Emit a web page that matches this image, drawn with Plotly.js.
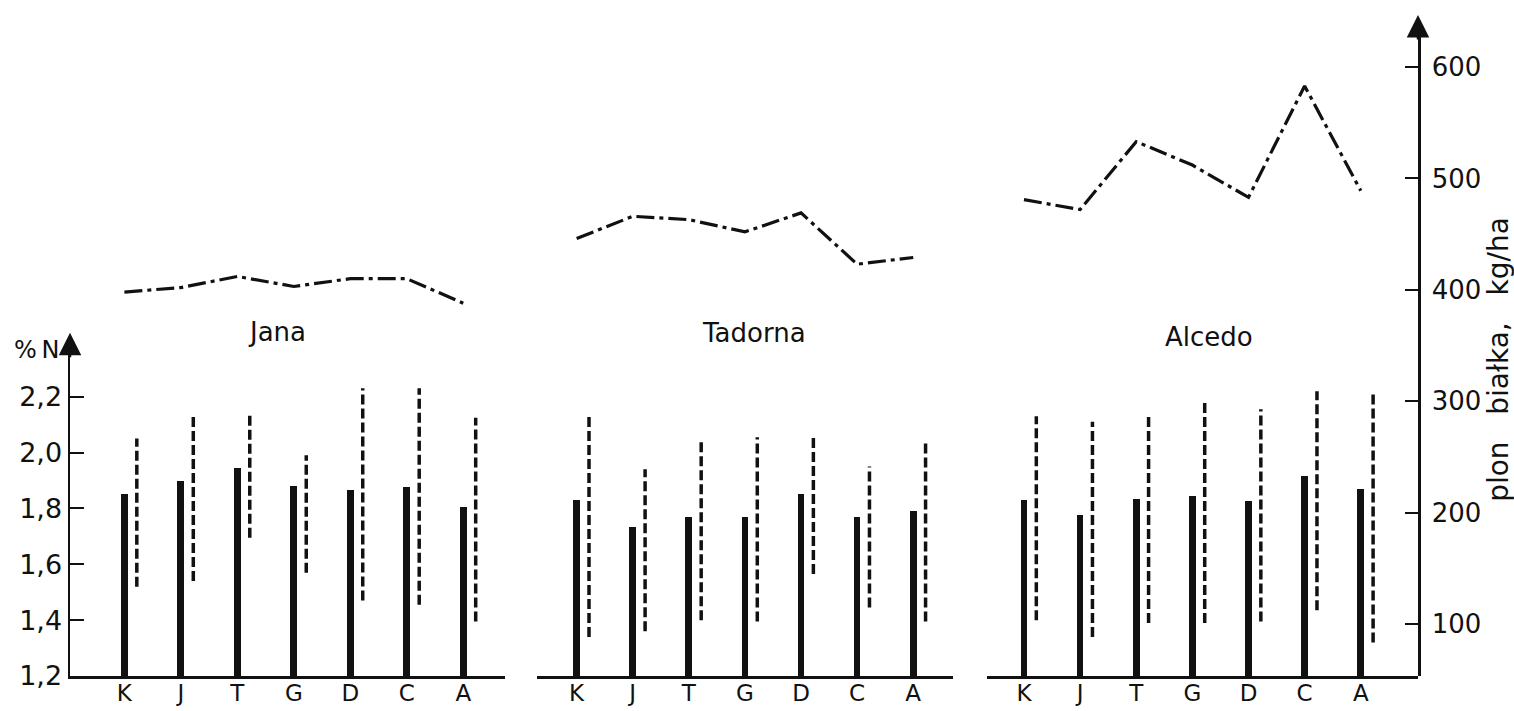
<!DOCTYPE html>
<html>
<head>
<meta charset="utf-8">
<script src="https://cdn.plot.ly/plotly-3.0.1.min.js"></script>
<style>html,body{margin:0;padding:0;background:#fff;}#chart{width:1514px;height:711px;}</style>
</head>
<body>
<div id="chart"></div>
<script>
// ---- data ----
const categories = ['K', 'J', 'T', 'G', 'D', 'C', 'A'];
const panelTitles = ['Jana', 'Tadorna', 'Alcedo'];

// %N (solid bars, left axis)
const nJana    = [1.85, 1.90, 1.945, 1.88, 1.865, 1.875, 1.805];
const nTadorna = [1.83, 1.735, 1.77, 1.77, 1.85, 1.77, 1.79];
const nAlcedo  = [1.83, 1.775, 1.835, 1.845, 1.825, 1.915, 1.87];

// %N range (dashed lines, left axis)
const nJanaMin    = [1.52, 1.54, 1.695, 1.57, 1.47, 1.455, 1.395];
const nJanaMax    = [2.05, 2.14, 2.135, 1.99, 2.23, 2.23, 2.125];
const nTadornaMin = [1.34, 1.36, 1.40, 1.395, 1.565, 1.445, 1.395];
const nTadornaMax = [2.14, 1.94, 2.045, 2.055, 2.06, 1.95, 2.045];
const nAlcedoMin  = [1.40, 1.34, 1.39, 1.39, 1.395, 1.435, 1.32];
const nAlcedoMax  = [2.13, 2.11, 2.13, 2.19, 2.155, 2.22, 2.215];

// protein yield, kg/ha (upper line, right axis)
const yieldJana    = [398, 402, 412, 403, 410, 410, 388];
const yieldTadorna = [446, 466, 463, 452, 469, 423, 429];
const yieldAlcedo  = [481, 472, 533, 512, 483, 583, 489];

// axis ticks
const leftTickVals  = [1.2, 1.4, 1.6, 1.8, 2.0, 2.2];
const leftTickText  = ['1,2', '1,4', '1,6', '1,8', '2,0', '2,2'];
const rightTickVals = [100, 200, 300, 400, 500, 600];
const rightTickText = ['100', '200', '300', '400', '500', '600'];

// ---- build the figure ----
const INK = '#111';
const FONT = 'DejaVu Sans, Liberation Sans, sans-serif';
const idx = categories.map((c, i) => i);
const off = 0.22;

const panels = [
  {n: nJana, lo: nJanaMin, hi: nJanaMax, y: yieldJana, xa: 'x'},
  {n: nTadorna, lo: nTadornaMin, hi: nTadornaMax, y: yieldTadorna, xa: 'x2'},
  {n: nAlcedo, lo: nAlcedoMin, hi: nAlcedoMax, y: yieldAlcedo, xa: 'x3'}
];

const traces = [];
panels.forEach(p => {
  traces.push({
    type: 'bar', x: idx, y: p.n, xaxis: p.xa, yaxis: 'y',
    width: 0.12, marker: {color: INK, line: {width: 0}},
    hoverinfo: 'y', showlegend: false
  });
  const dx = [], dy = [];
  idx.forEach(i => { dx.push(i + off, i + off, null); dy.push(p.lo[i], p.hi[i], null); });
  traces.push({
    type: 'scatter', mode: 'lines', x: dx, y: dy, xaxis: p.xa, yaxis: 'y',
    line: {color: INK, width: 3.5, dash: '10px,4px'}, showlegend: false, hoverinfo: 'y'
  });
  traces.push({
    type: 'scatter', mode: 'lines', x: idx, y: p.y, xaxis: p.xa, yaxis: 'y2',
    line: {color: INK, width: 3.2, dash: '18px,5px,4px,5px'}, showlegend: false, hoverinfo: 'y'
  });
});

function xAxis(domain, range) {
  return {
    domain: domain, range: range, anchor: 'y',
    showline: true, linewidth: 2.5, linecolor: INK,
    showgrid: false, zeroline: false, ticks: '',
    tickmode: 'array', tickvals: idx, ticktext: categories,
    tickfont: {family: FONT, size: 23, color: INK}, ticklabelstandoff: -5
  };
}

const layout = {
  width: 1514, height: 711,
  margin: {l: 70, r: 96, t: 25, b: 34.5},
  paper_bgcolor: '#fff', plot_bgcolor: 'rgba(0,0,0,0)',
  showlegend: false, bargap: 0,
  font: {family: FONT, color: INK},
  xaxis:  xAxis([0, 0.3227], [-0.963, 6.739]),
  xaxis2: xAxis([0.3464, 0.6550], [-0.708, 6.708]),
  xaxis3: xAxis([0.6800, 1], [-0.665, 7.02]),
  yaxis: {
    domain: [0, 0.5088], range: [1.2, 2.386], anchor: 'x', side: 'left',
    showline: true, linewidth: 2.5, linecolor: INK,
    showgrid: false, zeroline: false,
    ticks: 'inside', ticklen: 14, tickwidth: 2, tickcolor: INK,
    tickmode: 'array', tickvals: leftTickVals, ticktext: leftTickText,
    tickfont: {family: FONT, size: 27, color: INK}, ticklabelstandoff: 0
  },
  yaxis2: {
    domain: [0, 1], range: [53.36, 637.7], anchor: 'x3', side: 'right',
    showline: true, linewidth: 2.5, linecolor: INK,
    showgrid: false, zeroline: false,
    ticks: 'inside', ticklen: 13, tickwidth: 2, tickcolor: INK,
    tickmode: 'array', tickvals: rightTickVals, ticktext: rightTickText,
    tickfont: {family: FONT, size: 26, color: INK}, ticklabelstandoff: 6
  },
  annotations: [
    {text: panelTitles[0], xref: 'paper', yref: 'paper', x: 0.1536, y: 0.5288, xanchor: 'center', yanchor: 'middle', showarrow: false, font: {size: 26, family: FONT, color: INK}},
    {text: panelTitles[1], xref: 'paper', yref: 'paper', x: 0.5074, y: 0.5272, xanchor: 'center', yanchor: 'middle', showarrow: false, font: {size: 26, family: FONT, color: INK}},
    {text: panelTitles[2], xref: 'paper', yref: 'paper', x: 0.8450, y: 0.5211, xanchor: 'center', yanchor: 'middle', showarrow: false, font: {size: 26, family: FONT, color: INK}},
    {text: '%\u2009N', xref: 'paper', yref: 'paper', x: -0.006, y: 0.501, xanchor: 'right', yanchor: 'middle', showarrow: false, font: {size: 24, family: FONT, color: INK}},
    {text: 'plon\u00a0\u00a0\u00a0białka,\u00a0\u00a0\u00a0kg/ha', xref: 'paper', yref: 'paper', x: 1.0595, y: 0.486, xanchor: 'center', yanchor: 'middle', textangle: -90, showarrow: false, font: {size: 28, family: FONT, color: INK}},
    {text: '', xref: 'paper', yref: 'paper', x: 0, y: 0.5272, ax: 0, ay: 26, showarrow: true, arrowhead: 2, arrowsize: 1.8, arrowwidth: 2.5, arrowcolor: INK},
    {text: '', xref: 'paper', yref: 'paper', x: 1, y: 1.0153, ax: 0, ay: 26, showarrow: true, arrowhead: 2, arrowsize: 1.8, arrowwidth: 2.5, arrowcolor: INK}
  ]
};

Plotly.newPlot('chart', traces, layout, {displayModeBar: false, staticPlot: true});
</script>
</body>
</html>
